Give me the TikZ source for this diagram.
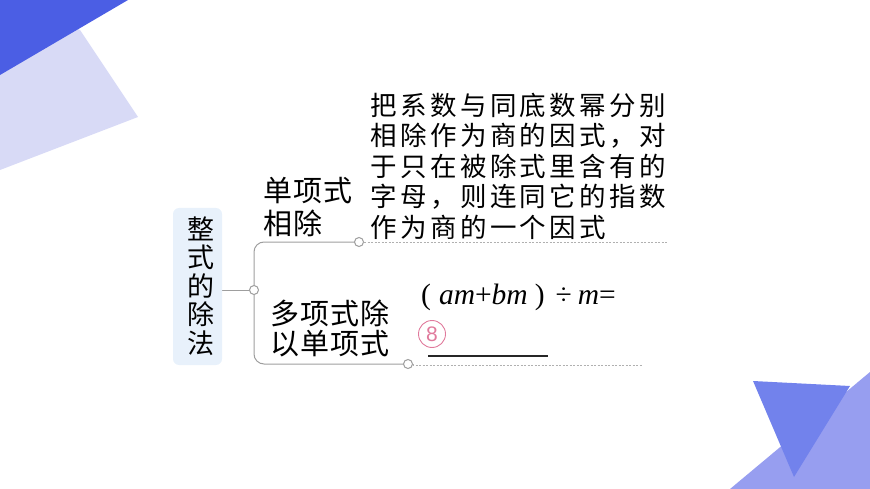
\documentclass[tikz,border=0pt]{standalone}
\usepackage{fontspec}
\setmainfont{Liberation Serif}
\newfontfamily\cjk{Noto Sans CJK SC}
\newfontfamily\digitfont{Liberation Sans}
\usetikzlibrary{backgrounds}
\definecolor{darkblue}{HTML}{4B5EE4}
\definecolor{lavender}{HTML}{D8DAF6}
\definecolor{midblue}{HTML}{979EF0}
\definecolor{triblue}{HTML}{7282EC}
\definecolor{boxfill}{HTML}{E8F1FB}
\definecolor{linegray}{HTML}{9E9E9E}
\definecolor{dotgray}{HTML}{B0B0B0}
\definecolor{pinkc}{HTML}{E07A9C}
\newlength\cjkpitch
\def\spc#1{\ifx#1\relax\else\makebox[\cjkpitch]{#1}\expandafter\spc\fi}
\newcommand\spaced[2]{\setlength\cjkpitch{#1}\spc#2\relax}
\begin{document}
\begin{tikzpicture}[x=1pt,y=-1pt,
  conn/.style={draw=linegray, line width=1pt},
  dots/.style={draw=dotgray, line width=1pt, dash pattern=on 2pt off 1.5pt},
  dot/.style={circle, draw=linegray, fill=white, line width=1pt, minimum size=9pt, inner sep=0pt},
  box/.style={rounded corners=6pt, fill=boxfill, minimum width=49pt, minimum height=157pt, inner sep=0pt},
  ztxt/.style={inner sep=0pt, font=\cjk\fontsize{27}{27}\selectfont},
  ltxt/.style={inner sep=0pt, anchor=west, font=\cjk\fontsize{29}{29}\selectfont},
  stxt/.style={inner sep=0pt, anchor=west, font=\cjk\fontsize{26.5}{26.5}\selectfont},
]
\useasboundingbox (0,0) rectangle (870,489);
% decorative shapes
\fill[lavender] (0,0) -- (80,30) -- (138,117) -- (0,170) -- cycle;
\fill[darkblue] (0,0) -- (128,0) -- (0,75) -- cycle;
\fill[midblue] (730,489) -- (870,372) -- (870,489) -- cycle;
\fill[triblue] (753,381) -- (850,386) -- (794,477) -- cycle;

% root box
\node[box] (box) at (197.5,286.5) {};
\node[ztxt] (z1) at (201,229) {整};
\node[ztxt] (z2) at (201,257) {式};
\node[ztxt] (z3) at (201,286) {的};
\node[ztxt] (z4) at (201,314) {除};
\node[ztxt] (z5) at (201,343) {法};

% circles
\node[dot] (c0) at (254,290) {};
\node[dot] (c1) at (359,242) {};
\node[dot] (c2) at (408,364) {};
\coordinate (e1) at (668,242);
\coordinate (e2) at (643,365);

\begin{pgfonlayer}{background}
\draw[conn] (box.east |- c0) -- (c0.center);
\draw[conn, rounded corners=10pt] (c1.center) -| (c0.center) |- (c2.center);
\end{pgfonlayer}
\draw[dots] (c1.east) -- (e1);
\draw[dots] (c2.east) -- (e2 -| c2.east) -- (e2);

% branch labels
\node[ltxt] (b1a) at (263,191) {\spaced{30pt}{单项式}};
\node[ltxt] (b1b) at (263,223) {\spaced{30pt}{相除}};
\node[ltxt] (b2a) at (270,313) {\spaced{30pt}{多项式除}};
\node[ltxt] (b2b) at (270,344) {\spaced{30pt}{以单项式}};

% description
\node[stxt] (d1) at (369,105) {\spaced{29.8pt}{把系数与同底数幂分别}};
\node[stxt] (d2) at (369,136) {\spaced{29.8pt}{相除作为商的因式，对}};
\node[stxt] (d3) at (369,166) {\spaced{29.8pt}{于只在被除式里含有的}};
\node[stxt] (d4) at (369,197) {\spaced{29.8pt}{字母，则连同它的指数}};
\node[stxt] (d5) at (369,227) {\spaced{29.8pt}{作为商的一个因式}};

% formula
\node[inner sep=0pt, anchor=west, font=\fontsize{29.5}{29.5}\selectfont] (f) at (421,297)
  {(\hspace{8pt}\textit{am}+\textit{bm}\hspace{7pt})\hspace{11pt}÷\hspace{6pt}\textit{m}=};
\node[circle, draw=pinkc, line width=0.9pt, minimum size=27pt, inner sep=0pt,
  text=pinkc, font=\digitfont\fontsize{21}{21}\selectfont] (n8) at (432,334) {8};
\coordinate (u1) at (428,356);
\coordinate (u2) at (548,356);
\draw[line width=2pt, black!85] (u1) -- (u2);
\end{tikzpicture}
\end{document}
